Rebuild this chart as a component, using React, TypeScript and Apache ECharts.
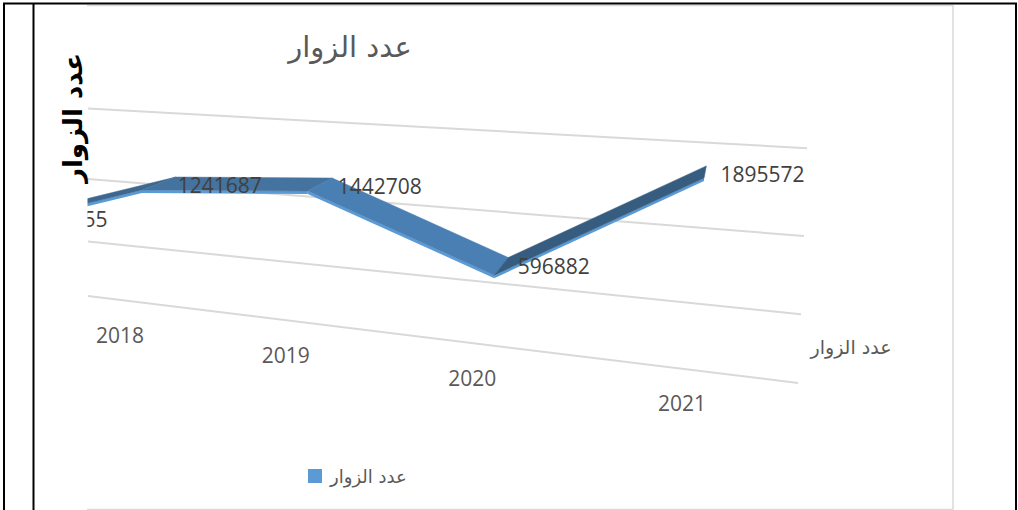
import React, { useEffect, useRef } from "react";
import * as echarts from "echarts";

// ---------- data ----------
const YEARS = ["2017", "2018", "2019", "2020", "2021"];
const VISITORS = [230655, 1241687, 1442708, 596882, 1895572];
const GRID_VALUES = [0, 500000, 1000000, 1500000];
const Y_MAX = 2000000;
const CHART_TITLE = "عدد الزوار";
const SERIES_NAME = "عدد الزوار";
const VALUE_AXIS_TITLE = "عدد الزوار";
const DEPTH_AXIS_LABEL = "عدد الزوار";

// ---------- pseudo-3D projection (perspective view of the flat grid) ----------
const R = 1.125;
const CAT_X0 = -27.35;
const CAT_D0 = 147.35;
const RIBBON_DX = 22;
const VP = [745, -40];
const DEPTH = 0.056;
const PLOT_LEFT = 88;

const catX = (X: number) => CAT_X0 + (CAT_D0 * (Math.pow(R, X) - 1)) / (R - 1);
const catLabelY = (x: number) => 335 + 0.121 * (x - 120);
const ribbonFront = (X: number, V: number) => {
  const x = catX(X) + RIBBON_DX;
  const base = 238.1 + 0.1745 * x;
  const k = 49.24 + 0.06708 * x;
  return [x, base - k * V];
};
const toBack = (p: number[]) => [p[0] + DEPTH * (VP[0] - p[0]), p[1] + DEPTH * (VP[1] - p[1])];
const wallLine = (V: number) => {
  const yl = 296 - 101 * V - 16 * V * V;
  const yr = 383 - 128 * V - 19 * V * V;
  const xr = 798 + 6 * V;
  return [[PLOT_LEFT, yl], [xr, yr]];
};
// label gap grows with perspective
const labelGap = (x: number) => 2 + 0.0227 * (x - 176);

// convert library coordinates (hidden flat cartesian) into model units
const unflat = (params: any, api: any, idx: number, val: number) => {
  const p = api.coord([idx, val]);
  const cs = params.coordSys;
  const X = ((p[0] - cs.x) / cs.width) * (YEARS.length - 1);
  const V = ((cs.y + cs.height - p[1]) / cs.height) * (Y_MAX / 1e6);
  return [X, V];
};

const mix = (a: number[], b: number[], t: number) =>
  "rgb(" + a.map((v, i) => Math.round(v + (b[i] - v) * t)).join(",") + ")";
const FLAT = [68, 115, 159];
const DOWN = [74, 127, 179];
const UP = [54, 92, 127];
const faceColor = (slope: number) =>
  slope >= 0 ? mix(FLAT, DOWN, Math.min(1, slope / 0.45)) : mix(FLAT, UP, Math.min(1, -slope / 0.46));

const NUM_FONT = '"Open Sans", "Noto Sans", sans-serif';
const AR_FONT = '"DejaVu Sans", sans-serif';

export default function App() {
  const ref = useRef<HTMLDivElement>(null);

  useEffect(() => {
    if (!ref.current) return;
    const chart = echarts.init(ref.current, undefined, { renderer: "svg" });
    const n = YEARS.length;

    const option: any = {
      animation: false,
      backgroundColor: "#ffffff",
      grid: { left: 0, right: 0, top: 0, bottom: 0, containLabel: false },
      xAxis: { type: "category", data: YEARS, boundaryGap: false, show: false },
      yAxis: { type: "value", min: 0, max: Y_MAX, show: false },
      legend: {
        data: [{ name: SERIES_NAME, icon: "rect" }],
        left: 303,
        top: 462,
        itemWidth: 14,
        itemHeight: 14,
        itemGap: 10,
        textStyle: { fontSize: 18, color: "#595959", fontFamily: AR_FONT, padding: [0, 0, 0, 3] },
      },
      series: [
        {
          type: "custom",
          name: "gridlines",
          z: 1,
          silent: true,
          data: GRID_VALUES.map((v) => [0, v]),
          encode: { x: 0, y: 1 },
          renderItem: (params: any, api: any) => {
            const [, V] = unflat(params, api, 0, api.value(1));
            const [a, b] = wallLine(V);
            return {
              type: "line",
              shape: { x1: a[0], y1: a[1], x2: b[0], y2: b[1] },
              style: { stroke: "#D9D9D9", lineWidth: 2 },
            };
          },
        },
        {
          type: "custom",
          name: SERIES_NAME,
          z: 2,
          itemStyle: { color: "#5B9BD5" },
          data: VISITORS.map((v, i) => [i, v]),
          encode: { x: 0, y: 1 },
          renderItem: (params: any, api: any) => {
            const i = params.dataIndex;
            if (i >= n - 1) return { type: "group", children: [] };
            const [X1, V1] = unflat(params, api, i, VISITORS[i]);
            const [X2, V2] = unflat(params, api, i + 1, VISITORS[i + 1]);
            const F1 = ribbonFront(X1, V1);
            const F2 = ribbonFront(X2, V2);
            const B1 = toBack(F1);
            const B2 = toBack(F2);
            const slope = (F2[1] - F1[1]) / (F2[0] - F1[0]);
            return {
              type: "group",
              children: [
                {
                  type: "polygon",
                  shape: { points: [F1, F2, [F2[0], F2[1] + 3], [F1[0], F1[1] + 3]] },
                  style: { fill: "#5B9BD5" },
                },
                {
                  type: "polygon",
                  shape: { points: [F1, F2, B2, B1] },
                  style: { fill: faceColor(slope), stroke: faceColor(slope), lineWidth: 0.5 },
                },
              ],
            };
          },
        },
        {
          type: "custom",
          name: "labels",
          z: 3,
          silent: true,
          data: VISITORS.map((v, i) => [i, v]),
          encode: { x: 0, y: 1 },
          renderItem: (params: any, api: any) => {
            const i = params.dataIndex;
            const [X, V] = unflat(params, api, i, VISITORS[i]);
            const B = toBack(ribbonFront(X, V));
            return {
              type: "text",
              style: {
                text: String(VISITORS[i]),
                x: B[0] + labelGap(B[0]),
                y: B[1] + 8,
                align: "left",
                verticalAlign: "middle",
                fill: "#404040",
                fontSize: 21,
                fontFamily: NUM_FONT,
              },
            };
          },
        },
        {
          type: "custom",
          name: "categories",
          z: 3,
          silent: true,
          data: YEARS.map((y, i) => [i, 0]),
          encode: { x: 0, y: 1 },
          renderItem: (params: any, api: any) => {
            const i = params.dataIndex;
            const [X] = unflat(params, api, i, 0);
            const x = catX(X);
            // labels whose centre falls left of the visible plot are clipped away
            if (x < PLOT_LEFT) return { type: "group", children: [] };
            return {
              type: "text",
              style: {
                text: YEARS[i],
                x,
                y: catLabelY(x),
                align: "center",
                verticalAlign: "middle",
                fill: "#595959",
                fontSize: 21,
                fontFamily: NUM_FONT,
              },
            };
          },
        },
      ],
      graphic: [
        // mask for the part of the chart left of the plot
        { type: "rect", z: 50, silent: true, shape: { x: 0, y: 5, width: 87.5, height: 505 }, style: { fill: "#ffffff" } },
        // chart object border
        { type: "line", z: 51, silent: true, shape: { x1: 87, y1: 5.5, x2: 953, y2: 5.5 }, style: { stroke: "#D9D9D9", lineWidth: 1.5 } },
        { type: "line", z: 51, silent: true, shape: { x1: 953, y1: 5, x2: 953, y2: 509.5 }, style: { stroke: "#D9D9D9", lineWidth: 1.5 } },
        { type: "line", z: 51, silent: true, shape: { x1: 87, y1: 509.5, x2: 953, y2: 509.5 }, style: { stroke: "#D9D9D9", lineWidth: 1.5 } },
        // table borders
        { type: "line", z: 52, silent: true, shape: { x1: 3, y1: 3.5, x2: 1017, y2: 3.5 }, style: { stroke: "#000", lineWidth: 2 } },
        { type: "line", z: 52, silent: true, shape: { x1: 4, y1: 3, x2: 4, y2: 510 }, style: { stroke: "#000", lineWidth: 2 } },
        { type: "line", z: 52, silent: true, shape: { x1: 33.5, y1: 3, x2: 33.5, y2: 510 }, style: { stroke: "#000", lineWidth: 2 } },
        { type: "line", z: 52, silent: true, shape: { x1: 1016, y1: 3, x2: 1016, y2: 510 }, style: { stroke: "#000", lineWidth: 2 } },
        // titles
        {
          type: "text", z: 53, silent: true, x: 350, y: 47,
          style: { text: CHART_TITLE, align: "center", verticalAlign: "middle", fill: "#595959", fontSize: 29, fontFamily: AR_FONT },
        },
        {
          type: "text", z: 53, silent: true, x: 73, y: 118, rotation: Math.PI / 2,
          style: { text: VALUE_AXIS_TITLE, align: "center", verticalAlign: "middle", fill: "#000", fontSize: 26, fontWeight: "bold", fontFamily: AR_FONT },
        },
        {
          type: "text", z: 53, silent: true, x: 851, y: 347,
          style: { text: DEPTH_AXIS_LABEL, align: "center", verticalAlign: "middle", fill: "#595959", fontSize: 19, fontFamily: AR_FONT },
        },
      ],
    };

    chart.setOption(option);
    return () => chart.dispose();
  }, []);

  return (
    <div
      ref={ref}
      style={{ position: "fixed", left: 0, top: 0, width: 1018, height: 510, background: "#fff" }}
    />
  );
}
